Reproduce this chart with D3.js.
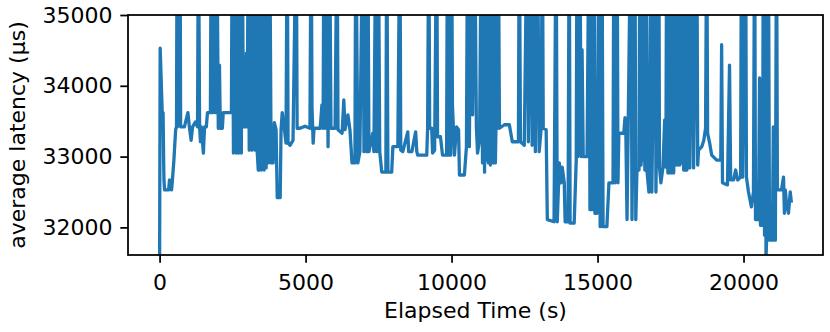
<!DOCTYPE html>
<html>
<head>
<meta charset="utf-8">
<script src="https://d3js.org/d3.v7.min.js"></script>
<style>
    body { margin: 0; background: #fff; }
    text { font-family: "DejaVu Sans", sans-serif; }
</style>
</head>
<body>
<div id="graph"></div>
<script>
// elapsed time (s) and average latency (µs).
// 36500 stands for samples that shoot past the top of the axes.
var elapsed = [
    0, 20, 90, 120, 140, 150, 170, 310, 340, 410,
    440, 490, 550, 580, 600, 610, 670, 700, 720, 850,
    970, 1020, 1080, 1130, 1230, 1300, 1330, 1370, 1400, 1430,
    1500, 1540, 1600, 1640, 1740, 1770, 1810, 1860, 1910, 1960,
    2010, 2050, 2080, 2150, 2180, 2390, 2460, 2490, 2530, 2580,
    2630, 2680, 2710, 2760, 2800, 2830, 2870, 2940, 2970, 3000,
    3040, 3070, 3120, 3170, 3230, 3280, 3310, 3340, 3380, 3410,
    3450, 3480, 3530, 3580, 3620, 3650, 3690, 3720, 3770, 3820,
    3890, 3930, 3990, 4030, 4130, 4160, 4200, 4270, 4330, 4370,
    4400, 4470, 4570, 4680, 4710, 4810, 4980, 5150, 5190, 5220,
    5260, 5290, 5500, 5560, 5600, 5630, 5670, 5720, 5770, 5820,
    5870, 6010, 6080, 6110, 6250, 6310, 6350, 6450, 6520, 6590,
    6690, 6720, 6790, 6860, 6960, 7000, 7050, 7100, 7130, 7170,
    7300, 7340, 7410, 7440, 7490, 7540, 7610, 7750, 7780, 7820,
    7950, 7990, 8160, 8230, 8260, 8330, 8500, 8530, 8640, 8770,
    8810, 8840, 9150, 9180, 9220, 9250, 9320, 9350, 9420, 9490,
    9520, 9620, 9690, 9830, 9860, 9900, 9930, 9970, 10000, 10030,
    10100, 10170, 10240, 10270, 10440, 10510, 10550, 10610, 10670, 10720,
    10790, 10850, 10890, 10960, 11020, 11060, 11090, 11130, 11160, 11190,
    11230, 11260, 11300, 11330, 11380, 11430, 11470, 11500, 11540, 11570,
    11600, 11640, 11810, 11980, 12080, 12290, 12320, 12360, 12490, 12590,
    12630, 12730, 12760, 12830, 12870, 12940, 13000, 13070, 13110, 13140,
    13240, 13280, 13510, 13580, 13620, 13690, 13750, 13790, 13860, 13890,
    13990, 14030, 14060, 14200, 14270, 14300, 14330, 14390, 14440, 14470,
    14510, 14640, 14710, 14740, 14780, 14810, 14880, 14910, 14980, 15050,
    15090, 15150, 15190, 15320, 15390, 15530, 15560, 15600, 15670, 15700,
    15730, 15900, 15940, 15970, 16010, 16140, 16180, 16280, 16310, 16350,
    16420, 16450, 16490, 16520, 16550, 16590, 16620, 16660, 16690, 16760,
    16830, 16860, 16980, 17000, 17100, 17120, 17170, 17240, 17300, 17340,
    17370, 17410, 17440, 17470, 17510, 17540, 17580, 17610, 17650, 17680,
    17710, 17750, 17780, 17820, 17850, 17880, 17920, 17950, 17990, 18020,
    18060, 18120, 18160, 18260, 18290, 18400, 18430, 18460, 18570, 18640,
    18700, 18740, 18770, 18840, 18910, 19080, 19220, 19250, 19280, 19450,
    19520, 19560, 19660, 19730, 19800, 19900, 19930, 19970, 20070, 20100,
    20170, 20270, 20340, 20380, 20410, 20510, 20550, 20580, 20650, 20680,
    20720, 20750, 20770, 20790, 20850, 20890, 20990, 21020, 21060, 21090,
    21130, 21160, 21300, 21370, 21400, 21430, 21470, 21540, 21570, 21600,
    21640
];
var latency = [
    31500, 34530, 33620, 33620, 32910, 32670, 32530, 32530, 32670, 32530,
    32670, 32950, 33380, 33420, 36500, 33420, 36500, 36500, 33420, 33420,
    33620, 33420, 33230, 33420, 33490, 33420, 36500, 33420, 33210, 33420,
    33050, 33420, 33420, 33620, 33620, 36500, 33620, 36500, 33620, 36500,
    33400, 34290, 33400, 33400, 33620, 33620, 33620, 36500, 33050, 36500,
    33050, 36500, 33050, 36500, 33050, 36500, 33420, 33420, 34460, 33420,
    36500, 33090, 36500, 33090, 36500, 33090, 36500, 33090, 32810, 32810,
    36500, 32810, 36500, 32810, 36500, 32840, 36500, 32910, 36500, 32910,
    32910, 33480, 33380, 32420, 32420, 33380, 33620, 33400, 33190, 36500,
    33190, 33160, 33230, 36500, 33400, 33400, 33430, 33400, 36500, 33700,
    33190, 33400, 33400, 33730, 33400, 36500, 33400, 36500, 33140, 36500,
    33400, 33400, 36500, 33380, 33330, 33800, 33380, 33590, 33380, 32910,
    32910, 36500, 32910, 33070, 36500, 33070, 36500, 33070, 36500, 33070,
    33330, 33070, 36500, 33070, 36500, 33070, 32780, 32780, 36500, 32780,
    32780, 33140, 33140, 36500, 33090, 33070, 33350, 33070, 33070, 33350,
    33070, 33020, 33020, 33400, 36500, 33400, 33400, 33050, 33090, 36500,
    33280, 33280, 33020, 33020, 36500, 33020, 36500, 33020, 36500, 33730,
    33020, 33420, 33380, 32740, 32740, 33140, 36500, 33140, 36500, 33590,
    36500, 33420, 33050, 33230, 36500, 32910, 36500, 32780, 36500, 32950,
    36500, 32910, 36500, 32880, 36500, 32910, 36500, 32910, 33840, 33400,
    36500, 33400, 33450, 33450, 33210, 33210, 36500, 33210, 33160, 36500,
    33210, 36500, 33160, 36500, 33070, 36500, 33070, 33400, 36500, 33400,
    33380, 32110, 32080, 36500, 32080, 32910, 32630, 32850, 32630, 32080,
    32080, 36500, 32060, 32060, 32950, 36500, 33000, 36500, 33000, 34510,
    33000, 33000, 36500, 32250, 36500, 32250, 36500, 32200, 32200, 36500,
    32010, 36500, 32010, 32010, 32630, 32630, 36500, 32630, 36500, 32630,
    33330, 33330, 33550, 33330, 32110, 36500, 32110, 36500, 32110, 32810,
    32810, 36500, 32880, 33140, 32950, 36500, 32810, 36500, 32810, 32500,
    36500, 32500, 36500, 32500, 36500, 32850, 32630, 32850, 33520, 32850,
    36500, 32770, 36500, 32770, 36500, 32770, 36500, 32770, 36500, 32880,
    36500, 32880, 36500, 32880, 36500, 32910, 36500, 32810, 36500, 32810,
    32810, 36500, 32840, 36500, 32840, 36500, 32880, 33090, 33140, 33230,
    33400, 36500, 33330, 33190, 33020, 32950, 32950, 34580, 32630, 32600,
    34290, 32670, 32670, 32810, 32670, 32710, 36500, 32710, 36500, 32710,
    32500, 32290, 32500, 36500, 32110, 32110, 34110, 32030, 32030, 36500,
    31890, 36500, 31570, 31820, 36500, 31820, 31820, 33420, 31820, 31820,
    36500, 32530, 32530, 32710, 32200, 32530, 32350, 32200, 32350, 32500,
    32350
];

var xTicks = [0, 5000, 10000, 15000, 20000];
var yTicks = [32000, 33000, 34000, 35000];
var yLimits = [31610, 35000];

var margin = {top: 15, right: 7, bottom: 77, left: 128},
    width = 830 - margin.left - margin.right,
    height = 332 - margin.top - margin.bottom;

var data = elapsed.map(function (t, i) { return {t: t, v: latency[i]}; });

var svg = d3.select("#graph")
    .append("svg")
        .attr("width", width + margin.left + margin.right)
        .attr("height", height + margin.top + margin.bottom)
    .append("g")
        .attr("transform", "translate(" + margin.left + "," + margin.top + ")");

// matplotlib style 5% margins on x
var tExt = d3.extent(elapsed);
var pad = (tExt[1] - tExt[0]) * 0.05;
var x = d3.scaleLinear()
    .domain([tExt[0] - pad, tExt[1] + pad])
    .range([0, width]);

var y = d3.scaleLinear()
    .domain(yLimits)
    .range([height, 0]);

svg.append("clipPath")
    .attr("id", "plotclip")
    .append("rect")
        .attr("width", width)
        .attr("height", height);

var line = d3.line()
    .x(function (d) { return x(d.t); })
    .y(function (d) { return y(d.v); });

svg.append("path")
    .datum(data)
    .attr("clip-path", "url(#plotclip)")
    .attr("fill", "none")
    .attr("stroke", "#1f77b4")
    .attr("stroke-width", 3.3)
    .attr("stroke-linejoin", "round")
    .attr("d", line);

// X axis
var xAxis = svg.append("g")
    .attr("transform", "translate(0," + height + ")")
    .call(d3.axisBottom(x).tickValues(xTicks).tickFormat(d3.format("d"))
        .tickSize(7.7).tickPadding(7.7));

// Y axis
var yAxis = svg.append("g")
    .call(d3.axisLeft(y).tickValues(yTicks).tickFormat(d3.format("d"))
        .tickSize(7.7).tickPadding(7.7));

[xAxis, yAxis].forEach(function (g) {
    g.select(".domain").remove();
    g.selectAll(".tick line").attr("stroke", "#000").attr("stroke-width", 1.75);
    g.selectAll(".tick text")
        .attr("fill", "#000")
        .style("font-size", "22px")
        .style("font-family", "'DejaVu Sans', sans-serif");
});
xAxis.selectAll(".tick text").attr("y", 35).attr("dy", null);

// frame
svg.append("rect")
    .attr("width", width)
    .attr("height", height)
    .attr("fill", "none")
    .attr("stroke", "#000")
    .attr("stroke-width", 1.75);

// axis labels
svg.append("text")
    .attr("x", width / 2)
    .attr("y", height + 63)
    .style("text-anchor", "middle")
    .style("font-size", "22px")
    .text("Elapsed Time (s)");

svg.append("text")
    .attr("transform", "translate(" + (25 - margin.left) + "," + (height / 2) + ") rotate(-90)")
    .style("text-anchor", "middle")
    .style("font-size", "22px")
    .text("average latency (µs)");
</script>
</body>
</html>
